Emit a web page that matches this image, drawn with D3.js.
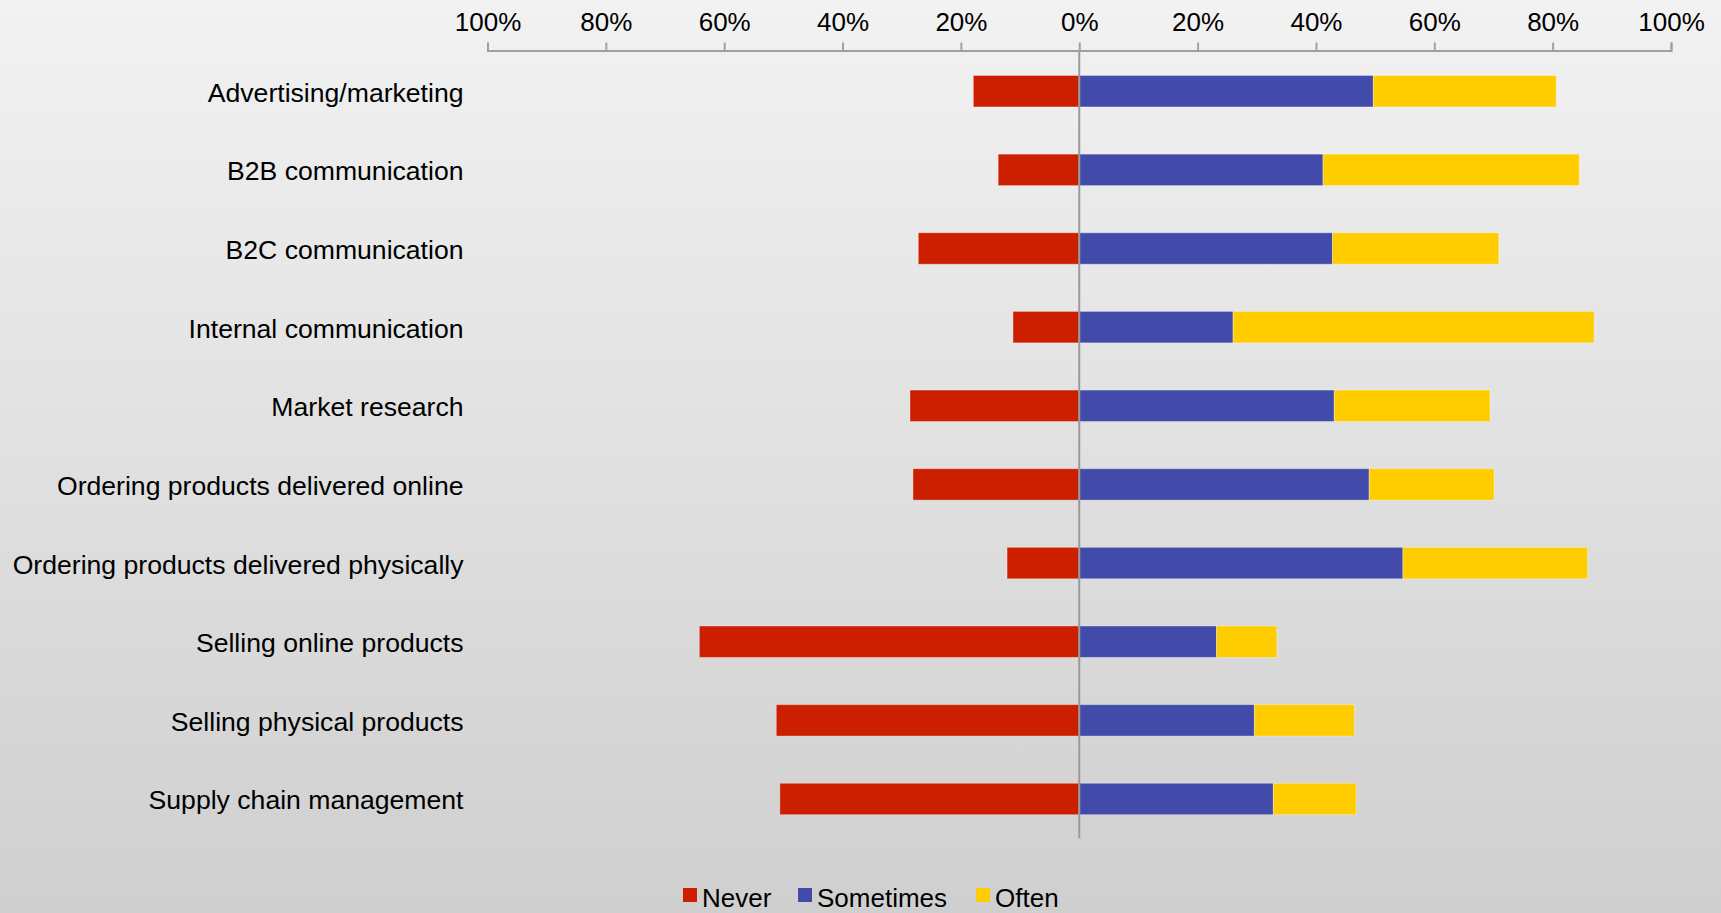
<!DOCTYPE html>
<html>
<head>
<meta charset="utf-8">
<script src="https://cdn.jsdelivr.net/npm/d3@7/dist/d3.min.js"></script>
<style>
  html, body { margin: 0; padding: 0; overflow: hidden; }
  svg { display: block; font-family: "Liberation Sans", Arial, sans-serif; }
</style>
</head>
<body>
<svg id="chart" width="1721" height="913"></svg>
<script>
// Usage frequency by purpose (% of respondents)
const categories = [
  "Advertising/marketing",
  "B2B communication",
  "B2C communication",
  "Internal communication",
  "Market research",
  "Ordering products delivered online",
  "Ordering products delivered physically",
  "Selling online products",
  "Selling physical products",
  "Supply chain management"
];
const never     = [17.9, 13.7, 27.2, 11.2, 28.6, 28.1, 12.2, 64.2, 51.2, 50.6];
const sometimes = [49.7, 41.2, 42.8, 26.0, 43.1, 49.0, 54.7, 23.2, 29.6, 32.8];
const often     = [30.9, 43.3, 28.1, 61.0, 26.3, 21.1, 31.2, 10.2, 16.9, 14.0];
const tickValues = [-100, -80, -60, -40, -20, 0, 20, 40, 60, 80, 100];
const seriesNames = ["Never", "Sometimes", "Often"];
const seriesColors = ["#cc1f00", "#434baa", "#ffcc00"];

const W = 1721, H = 913;
const svg = d3.select("#chart");

// background gradient
const defs = svg.append("defs");
const grad = defs.append("linearGradient")
  .attr("id", "bg").attr("x1", 0).attr("y1", 0).attr("x2", 0).attr("y2", 1);
grad.append("stop").attr("offset", "0%").attr("stop-color", "#f2f2f2");
grad.append("stop").attr("offset", "100%").attr("stop-color", "#cfcfcf");
svg.append("rect").attr("width", W).attr("height", H).attr("fill", "url(#bg)");

const x = d3.scaleLinear().domain([-100, 100]).range([487.5, 1671]);
const y = d3.scaleBand().domain(categories).range([51.9, 838.3])
  .paddingInner(0.6).paddingOuter(0.3);
const color = d3.scaleOrdinal().domain(seriesNames).range(seriesColors);

const rows = categories.map((c, i) => ({
  cat: c, never: never[i], sometimes: sometimes[i], often: often[i]
}));

// one segment per series: Never extends left of zero, the others stack to the right
const segments = [];
rows.forEach(r => {
  segments.push({ cat: r.cat, key: "Never", x0: -r.never, x1: 0 });
  segments.push({ cat: r.cat, key: "Sometimes", x0: 0, x1: r.sometimes });
  segments.push({ cat: r.cat, key: "Often", x0: r.sometimes, x1: r.sometimes + r.often });
});

svg.append("g").selectAll("rect")
  .data(segments)
  .join("rect")
  .attr("x", d => x(d.x0))
  .attr("y", d => y(d.cat))
  .attr("width", d => x(d.x1) - x(d.x0))
  .attr("height", y.bandwidth())
  .attr("fill", d => color(d.key))
  .attr("stroke", "rgba(255,255,255,0.35)")
  .attr("stroke-width", 1);

// zero line
svg.append("line")
  .attr("x1", x(0)).attr("x2", x(0))
  .attr("y1", y.range()[0] - 2).attr("y2", y.range()[1])
  .attr("stroke", "#9a9a9a").attr("stroke-width", 2);

// top percentage axis
const axis = d3.axisTop(x)
  .tickValues(tickValues)
  .tickFormat(d => Math.abs(d) + "%")
  .tickSize(8)
  .tickSizeOuter(8)
  .tickPadding(12);
const gAxis = svg.append("g").attr("transform", "translate(0,50.5)").call(axis);
gAxis.select(".domain").attr("stroke", "#a0a0a0").attr("stroke-width", 2);
gAxis.selectAll(".tick line").attr("stroke", "#a0a0a0").attr("stroke-width", 2);
gAxis.selectAll(".tick text")
  .attr("fill", "#000")
  .style("font-size", "26px")
  .style("font-family", "'Liberation Sans', Arial, sans-serif");

// category labels
svg.append("g").selectAll("text")
  .data(categories)
  .join("text")
  .attr("x", 463.5)
  .attr("y", d => y(d) + y.bandwidth() / 2 + 10.5)
  .attr("text-anchor", "end")
  .attr("fill", "#000")
  .style("font-size", "26.6px")
  .text(d => d);

// legend
const legendX = [683, 798, 976];
const legend = svg.append("g").selectAll("g")
  .data(seriesNames)
  .join("g")
  .attr("transform", (d, i) => `translate(${legendX[i]},888)`);
legend.append("rect")
  .attr("width", 14).attr("height", 14)
  .attr("fill", d => color(d));
legend.append("text")
  .attr("x", 19).attr("y", 18.8)
  .attr("fill", "#000")
  .style("font-size", "26px")
  .text(d => d);
</script>
</body>
</html>
